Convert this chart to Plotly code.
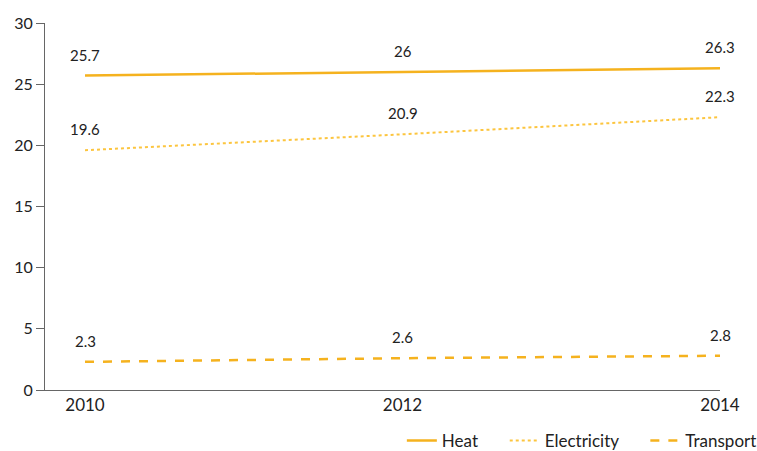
import plotly.graph_objects as go

years = [2010, 2012, 2014]
heat = [25.7, 26, 26.3]
electricity = [19.6, 20.9, 22.3]
transport = [2.3, 2.6, 2.8]

series = [
    ("Heat", heat, dict(color="#F5B21E", width=2.5, dash="solid")),
    ("Electricity", electricity, dict(color="#FCC53F", width=2, dash="dot")),
    ("Transport", transport, dict(color="#F5B21E", width=2.5, dash="dash")),
]

PAD = "&nbsp;" * 5

fig = go.Figure()
annotations = []
for i, (name, vals, line) in enumerate(series):
    label = name + (PAD if i < len(series) - 1 else "")
    fig.add_trace(go.Scatter(x=years, y=vals, mode="lines", name=label, line=line))
    for x, v in zip(years, vals):
        annotations.append(dict(x=x, y=v, text=str(v), showarrow=False, yshift=21,
                                font=dict(size=15, color="#222")))

fig.update_layout(
    width=757, height=451,
    margin=dict(l=45, r=37, t=23, b=61, autoexpand=False),
    paper_bgcolor="white", plot_bgcolor="white",
    font=dict(family="Lato, Open Sans, sans-serif", size=17, color="#222"),
    annotations=annotations,
    showlegend=True,
    legend=dict(orientation="h", x=1.062, xanchor="right", y=-0.139, yanchor="middle",
                font=dict(size=17), itemwidth=30, tracegroupgap=0),
    xaxis=dict(range=[2009.748, 2014], tickvals=years, showgrid=False, zeroline=False,
               showline=True, linecolor="#666", linewidth=1, ticks="", ticklen=0,
               tickfont=dict(size=17)),
    yaxis=dict(range=[0, 30], dtick=5, showgrid=False, zeroline=False,
               showline=True, linecolor="#666", linewidth=1, ticks="outside",
               ticklen=8, tickcolor="#666", tickfont=dict(size=16)),
)
fig.write_html("out.html", config={"displayModeBar": False},
               post_script="document.body.style.margin='0';document.body.style.overflow='hidden';")
